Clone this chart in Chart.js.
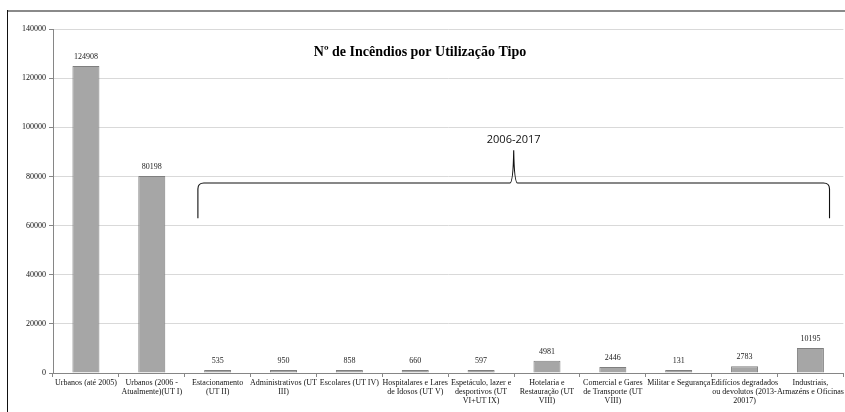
<!DOCTYPE html>
<html lang="pt">
<head>
  <meta charset="UTF-8">
  <title>Nº de Incêndios por Utilização Tipo</title>
  <script src="https://cdn.jsdelivr.net/npm/chart.js"></script>
  <style>
    html, body { margin: 0; padding: 0; background: #fff; }
    #wrap { width: 845px; height: 412px; position: relative; }
  </style>
</head>
<body>
  <div id="wrap"><canvas id="fires"></canvas></div>

  <script>
    const categories = [
      "Urbanos (até 2005)",
      ["Urbanos (2006 -", "Atualmente)(UT I)"],
      ["Estacionamento", "(UT II)"],
      ["Administrativos (UT", "III)"],
      "Escolares (UT IV)",
      ["Hospitalares e Lares", "de Idosos (UT V)"],
      ["Espetáculo, lazer e", "desportivos (UT", "VI+UT IX)"],
      ["Hotelaria e", "Restauração (UT", "VIII)"],
      ["Comercial e Gares", "de Transporte (UT", "VIII)"],
      "Militar e Segurança",
      ["Edifícios degradados", "ou devolutos (2013-", "20017)"],
      ["Industriais,", "Armazéns e Oficinas"]
    ];
    const fireCounts = [124908, 80198, 535, 950, 858, 660, 597, 4981, 2446, 131, 2783, 10195];
    const yTicks = [0, 20000, 40000, 60000, 80000, 100000, 120000, 140000];

    const chartTitle = "Nº de Incêndios por Utilização Tipo";
    const braceLabel = "2006-2017";
    const braceFrom = 2, braceTo = 11;
    const braceValues = { bottom: 63000, bar: 77300, tip: 90700, text: 95000 };

    const serif = "'Liberation Serif', 'DejaVu Serif', serif";

    // border lines of the original picture frame
    const framePlugin = {
      id: 'frame',
      beforeDraw(chart) {
        const ctx = chart.ctx;
        ctx.save();
        ctx.fillStyle = '#fff';
        ctx.fillRect(0, 0, chart.width, chart.height);
        ctx.strokeStyle = '#8a8a8a';
        ctx.lineWidth = 2;
        ctx.beginPath(); ctx.moveTo(7, 11); ctx.lineTo(chart.width, 11); ctx.stroke();
        ctx.strokeStyle = '#111';
        ctx.lineWidth = 1;
        ctx.beginPath(); ctx.moveTo(7.5, 10); ctx.lineTo(7.5, chart.height); ctx.stroke();
        ctx.restore();
      }
    };

    // value labels, title and the 2006-2017 brace
    const extrasPlugin = {
      id: 'extras',
      afterDatasetsDraw(chart) {
        const ctx = chart.ctx;
        const meta = chart.getDatasetMeta(0);
        const x = chart.scales.x, y = chart.scales.y;
        ctx.save();
        ctx.font = '8px ' + serif;
        ctx.fillStyle = '#222';
        ctx.textAlign = 'center';
        ctx.textBaseline = 'bottom';
        meta.data.forEach((bar, i) => {
          ctx.fillText(String(fireCounts[i]), bar.x, bar.y - 5);
        });

        ctx.font = 'bold 14px ' + serif;
        ctx.fillStyle = '#000';
        ctx.textBaseline = 'middle';
        ctx.fillText(chartTitle, 420, 52);

        const step = x.getPixelForValue(1) - x.getPixelForValue(0);
        const x0 = x.getPixelForValue(braceFrom) - step * 0.3;
        const x1 = x.getPixelForValue(braceTo) + step * 0.29;
        const xm = (x0 + x1) / 2;
        const yb = y.getPixelForValue(braceValues.bottom);
        const yh = y.getPixelForValue(braceValues.bar);
        const yt = y.getPixelForValue(braceValues.tip);
        const r = 6;
        ctx.strokeStyle = '#111';
        ctx.lineWidth = 1.1;
        ctx.beginPath();
        ctx.moveTo(x0, yb);
        ctx.lineTo(x0, yh + r);
        ctx.quadraticCurveTo(x0, yh, x0 + r, yh);
        ctx.lineTo(xm - 4, yh);
        ctx.quadraticCurveTo(xm - 0.5, yh, xm, yt);
        ctx.quadraticCurveTo(xm + 0.5, yh, xm + 4, yh);
        ctx.lineTo(x1 - r, yh);
        ctx.quadraticCurveTo(x1, yh, x1, yh + r);
        ctx.lineTo(x1, yb);
        ctx.stroke();

        ctx.font = '11px "Open Sans", "DejaVu Sans", sans-serif';
        ctx.fillStyle = '#111';
        ctx.fillText(braceLabel, xm, y.getPixelForValue(braceValues.text));
        ctx.restore();
      }
    };

    new Chart(document.getElementById('fires'), {
      type: 'bar',
      data: {
        labels: categories,
        datasets: [{
          data: fireCounts,
          backgroundColor: '#a6a6a6',
          borderColor: '#7f7f7f',
          borderWidth: 1,
          minBarLength: 3,
          barPercentage: 0.41,
          categoryPercentage: 1
        }]
      },
      options: {
        responsive: true,
        maintainAspectRatio: false,
        animation: false,
        layout: { padding: { top: 29, right: 1, left: 0, bottom: 0 } },
        plugins: {
          legend: { display: false },
          tooltip: { enabled: false },
          title: { display: false }
        },
        scales: {
          x: {
            offset: true,
            grid: { offset: true, drawOnChartArea: false, drawTicks: true, tickLength: 4, color: '#868686' },
            border: { color: '#868686' },
            ticks: {
              maxRotation: 0, autoSkip: false, color: '#111', padding: 1,
              font: { family: serif, size: 8, lineHeight: 1.15 }
            },
            afterFit(scale) { scale.height = 39; }
          },
          y: {
            min: 0, max: 140000,
            afterBuildTicks(scale) { scale.ticks = yTicks.map(v => ({ value: v })); },
            grid: { color: '#d9d9d9', tickLength: 4, tickColor: '#868686' },
            border: { color: '#868686' },
            ticks: {
              color: '#111', padding: 3, font: { family: serif, size: 8 },
              callback: v => String(v)
            },
            afterFit(scale) { scale.width = 53; }
          }
        }
      },
      plugins: [framePlugin, extrasPlugin]
    });
  </script>
</body>
</html>
